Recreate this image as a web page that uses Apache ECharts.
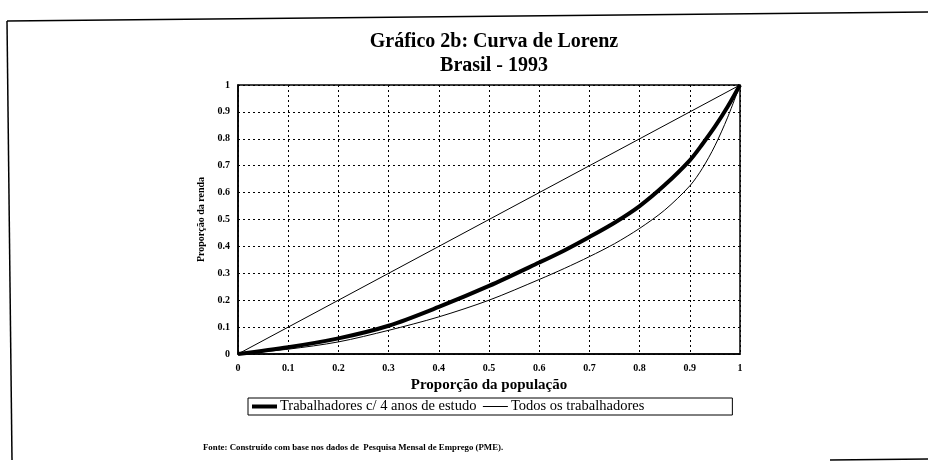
<!DOCTYPE html>
<html>
<head>
<meta charset="utf-8">
<script src="https://cdn.jsdelivr.net/npm/echarts@6/dist/echarts.min.js"></script>
<style>
  html, body { margin: 0; padding: 0; background: #fff; }
  #chart { width: 928px; height: 462px; }
</style>
</head>
<body>
<div id="chart"></div>
<script>
// population share (x) and income share (y)
var popShare = [0, 0.1, 0.2, 0.3, 0.4, 0.5, 0.6, 0.65, 0.7, 0.75, 0.8, 0.85, 0.9, 0.925, 0.95, 0.975, 1];
var rendaQuatroAnos = [0, 0.025, 0.058, 0.105, 0.175, 0.253, 0.34, 0.385, 0.435, 0.488, 0.55, 0.628, 0.72, 0.78, 0.845, 0.918, 1];
var rendaTodos = [0, 0.018, 0.045, 0.088, 0.138, 0.2, 0.277, 0.318, 0.362, 0.41, 0.467, 0.535, 0.625, 0.69, 0.774, 0.878, 1];
var igualdade = [[0, 0], [1, 1]];
var serieNames = ['Trabalhadores c/ 4 anos de estudo', 'Todos os trabalhadores'];

function pairs(xs, ys) {
  var out = [];
  for (var i = 0; i < xs.length; i++) { out.push([xs[i], ys[i]]); }
  return out;
}

var serif = '"Liberation Serif", "DejaVu Serif", serif';
var chart = echarts.init(document.getElementById('chart'), null, {renderer: 'canvas'});

chart.setOption({
  backgroundColor: '#fff',
  animation: false,
  title: [{
    text: 'Gráfico 2b: Curva de Lorenz',
    left: 489, top: 27, textAlign: 'center',
    textStyle: {fontFamily: serif, fontSize: 20, fontWeight: 'bold', color: '#000'}
  }, {
    text: 'Brasil - 1993',
    left: 489, top: 51, textAlign: 'center',
    textStyle: {fontFamily: serif, fontSize: 20, fontWeight: 'bold', color: '#000'}
  }],
  legend: {
    data: [
      {name: serieNames[0], lineStyle: {width: 4}},
      {name: serieNames[1], lineStyle: {width: 1}}
    ],
    left: 248, top: 398,
    padding: [1, 88, 1, 2],
    itemGap: 6,
    itemWidth: 25, itemHeight: 14,
    itemStyle: {opacity: 0},
    borderColor: '#000', borderWidth: 1,
    textStyle: {fontFamily: serif, fontSize: 14.5, color: '#000', padding: [0, 0, 0, -2]}
  },
  grid: {left: 238, right: 188, top: 85, bottom: 108},
  xAxis: {
    type: 'value', min: 0, max: 1, interval: 0.1,
    name: 'Proporção da população', nameLocation: 'middle', nameGap: 23,
    nameTextStyle: {fontFamily: serif, fontSize: 15, fontWeight: 'bold', color: '#000'},
    axisLine: {show: true, lineStyle: {color: '#000', width: 1.5}},
    axisTick: {show: false},
    axisLabel: {fontFamily: serif, fontSize: 10, fontWeight: 'bold', color: '#000', margin: 9,
      formatter: function (v) { return +v.toFixed(1) + ''; }},
    splitLine: {show: true, lineStyle: {color: '#000', type: [2, 3], width: 1}}
  },
  yAxis: {
    type: 'value', min: 0, max: 1, interval: 0.1,
    name: 'Proporção da renda', nameLocation: 'middle', nameGap: 29,
    nameTextStyle: {fontFamily: serif, fontSize: 10, fontWeight: 'bold', color: '#000'},
    axisLine: {show: true, lineStyle: {color: '#000', width: 1.5}},
    axisTick: {show: false},
    axisLabel: {fontFamily: serif, fontSize: 10, fontWeight: 'bold', color: '#000', margin: 8,
      formatter: function (v) { return +v.toFixed(1) + ''; }},
    splitLine: {show: true, lineStyle: {color: '#000', type: [2, 3], width: 1}}
  },
  series: [{
    name: 'igualdade',
    type: 'line', data: igualdade,
    symbol: 'none', silent: true,
    lineStyle: {color: '#000', width: 1}
  }, {
    name: serieNames[1],
    type: 'line', data: pairs(popShare, rendaTodos),
    symbol: 'none', smooth: 0.3,
    lineStyle: {color: '#000', width: 1}, itemStyle: {color: '#000'}
  }, {
    name: serieNames[0],
    type: 'line', data: pairs(popShare, rendaQuatroAnos),
    symbol: 'none', smooth: 0.3,
    lineStyle: {color: '#000', width: 4}, itemStyle: {color: '#000'}
  }],
  graphic: [{
    type: 'rect', shape: {x: 238, y: 85, width: 502, height: 269}, silent: true,
    style: {fill: 'none', stroke: '#000', lineWidth: 1.5}
  }, {
    type: 'polyline', shape: {points: [[7, 21], [928, 12]]}, silent: true,
    style: {stroke: '#000', lineWidth: 1.5}
  }, {
    type: 'polyline', shape: {points: [[7, 21], [12, 460]]}, silent: true,
    style: {stroke: '#000', lineWidth: 1.5}
  }, {
    type: 'polyline', shape: {points: [[830, 460], [928, 459]]}, silent: true,
    style: {stroke: '#000', lineWidth: 1.5}
  }, {
    type: 'text', left: 203, top: 443, silent: true,
    style: {text: 'Fonte: Construído com base nos dados de  Pesquisa Mensal de Emprego (PME).',
      font: 'bold 8.8px ' + serif, fill: '#000'}
  }]
});
</script>
</body>
</html>
